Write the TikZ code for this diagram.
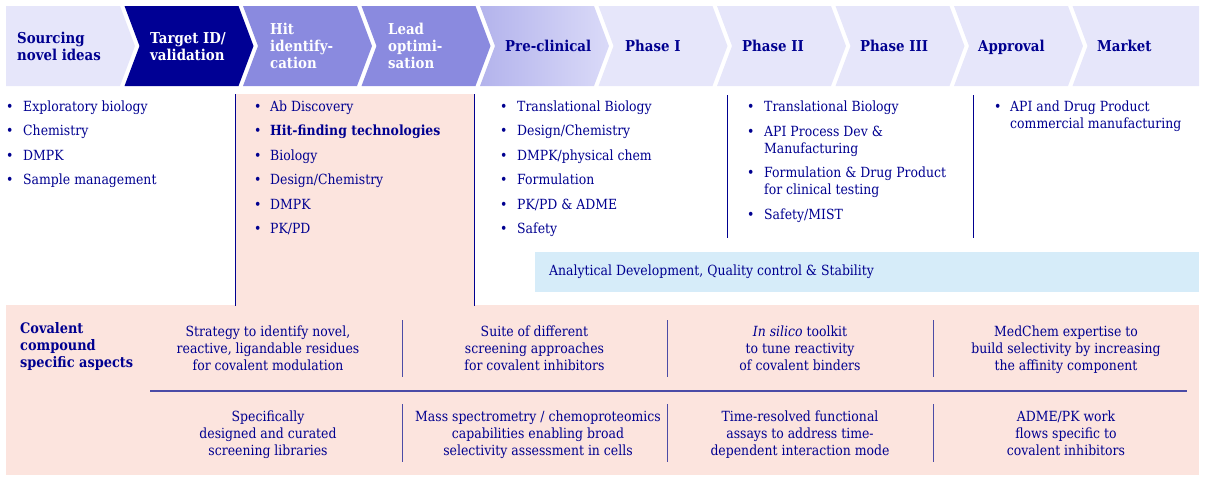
\documentclass[tikz,border=0pt]{standalone}
\usepackage{fontspec}
\setmainfont{DejaVu Serif}[FakeStretch=0.89]
\definecolor{navy}{HTML}{000090}
\definecolor{chevlight}{HTML}{E6E6FA}
\definecolor{chevdark}{HTML}{000094}
\definecolor{chevmid}{HTML}{8A8ADF}
\definecolor{gradL}{HTML}{B3B3EC}
\definecolor{gradR}{HTML}{DADAF8}
\definecolor{pinkbg}{HTML}{FCE4DE}
\definecolor{bluebg}{HTML}{D6ECF9}
\definecolor{sepline}{HTML}{4B4BA6}
\newcommand\myBody{\fontsize{14}{17}\selectfont}
\newcommand\myChev{\fontsize{15}{17}\selectfont\bfseries}
\newcommand\myCov{\fontsize{14.5}{17}\selectfont\bfseries}
\begin{document}
\begin{tikzpicture}[x=1pt,y=-1pt,
  body/.style={anchor=base west, inner sep=0pt, text=navy, font=\myBody, align=left},
  bul/.style={anchor=base west, inner sep=0pt, text=navy, font=\myBody},
  chevlabel/.style={anchor=base west, inner sep=0pt, font=\myChev, align=left},
  cell/.style={anchor=base, inner sep=0pt, text=navy, font=\myBody, align=center},
  sepl/.style={draw=sepline, line width=1.2pt},
  colline/.style={draw=navy, line width=0.8pt},
]
\useasboundingbox (0,0) rectangle (1205,482);
% ---------- chevrons ----------
\fill[chevlight] (6,6) -- (120,6) -- (135,46) -- (120,86) -- (6,86) -- cycle;
\foreach \k/\col in {1/chevdark,2/chevmid,3/chevmid,5/chevlight,6/chevlight,7/chevlight,8/chevlight}{
  \pgfmathsetmacro\xa{6+118.5*\k}
  \fill[\col] (\xa,6) -- ({\xa+114},6) -- ({\xa+129},46) -- ({\xa+114},86) -- (\xa,86) -- ({\xa+15},46) -- cycle;
}
\shade[left color=gradL, right color=gradR] (480,6) -- (594,6) -- (609,46) -- (594,86) -- (480,86) -- (495,46) -- cycle;
\fill[chevlight] (1072.5,6) -- (1199,6) -- (1199,86) -- (1072.5,86) -- (1087.5,46) -- cycle;
\node[chevlabel, text=navy] (ch1) at (17,60) {Sourcing\\novel ideas};
\node[chevlabel, text=white] (ch2) at (150,60) {Target ID/\\validation};
\node[chevlabel, text=white] (ch3) at (270,68) {Hit\\identify-\\cation};
\node[chevlabel, text=white] (ch4) at (388,68) {Lead\\optimi-\\sation};
\node[chevlabel, text=navy] (ch5) at (505,51) {Pre-clinical};
\node[chevlabel, text=navy] (ch6) at (625,51) {Phase I};
\node[chevlabel, text=navy] (ch7) at (742,51) {Phase II};
\node[chevlabel, text=navy] (ch8) at (860,51) {Phase III};
\node[chevlabel, text=navy] (ch9) at (978,51) {Approval};
\node[chevlabel, text=navy] (ch10) at (1097,51) {Market};
% ---------- backgrounds ----------
\fill[pinkbg] (235,94) rectangle (474,306);
\fill[pinkbg] (6,305) rectangle (1199,475);
\fill[bluebg] (535,252) rectangle (1199,292);
\draw[colline] (235,94) -- (235,306);
\draw[colline] (474,94) -- (474,306);
\draw[colline] (727,95) -- (727,238);
\draw[colline] (973,95) -- (973,238);
% ---------- column 1 ----------
\node[bul] (b1a) at (6,111) {\textbullet};  \node[body] (t1a) at (23,111) {Exploratory biology};
\node[bul] (b1b) at (6,135.5) {\textbullet};    \node[body] (t1b) at (23,135.5) {Chemistry};
\node[bul] (b1c) at (6,160) {\textbullet};  \node[body] (t1c) at (23,160) {DMPK};
\node[bul] (b1d) at (6,184.5) {\textbullet};    \node[body] (t1d) at (23,184.5) {Sample management};
% ---------- column 2 ----------
\node[bul] (b2a) at (254,111) {\textbullet};  \node[body] (t2a) at (270,111) {Ab Discovery};
\node[bul] (b2b) at (254,135.5) {\textbullet};    \node[body] (t2b) at (270,135.5) {\bfseries Hit-finding technologies};
\node[bul] (b2c) at (254,160) {\textbullet};  \node[body] (t2c) at (270,160) {Biology};
\node[bul] (b2d) at (254,184.5) {\textbullet};    \node[body] (t2d) at (270,184.5) {Design/Chemistry};
\node[bul] (b2e) at (254,209) {\textbullet};  \node[body] (t2e) at (270,209) {DMPK};
\node[bul] (b2f) at (254,233.5) {\textbullet};    \node[body] (t2f) at (270,233.5) {PK/PD};
% ---------- column 3 ----------
\node[bul] (b3a) at (500,111) {\textbullet};  \node[body] (t3a) at (517,111) {Translational Biology};
\node[bul] (b3b) at (500,135.5) {\textbullet};    \node[body] (t3b) at (517,135.5) {Design/Chemistry};
\node[bul] (b3c) at (500,160) {\textbullet};  \node[body] (t3c) at (517,160) {DMPK/physical chem};
\node[bul] (b3d) at (500,184.5) {\textbullet};    \node[body] (t3d) at (517,184.5) {Formulation};
\node[bul] (b3e) at (500,209) {\textbullet};  \node[body] (t3e) at (517,209) {PK/PD \& ADME};
\node[bul] (b3f) at (500,233.5) {\textbullet};    \node[body] (t3f) at (517,233.5) {Safety};
% ---------- column 4 ----------
\node[bul] (b4a) at (747,111) {\textbullet};  \node[body] (t4a) at (764,111) {Translational Biology};
\node[bul] (b4b) at (747,136) {\textbullet};  \node[body] (t4b) at (764,153) {API Process Dev \&\\Manufacturing};
\node[bul] (b4c) at (747,177) {\textbullet};  \node[body] (t4c) at (764,194) {Formulation \& Drug Product\\for clinical testing};
\node[bul] (b4d) at (747,219) {\textbullet};  \node[body] (t4d) at (764,219) {Safety/MIST};
% ---------- column 5 ----------
\node[bul] (b5a) at (994,111) {\textbullet};  \node[body] (t5a) at (1010,128.5) {API and Drug Product\\commercial manufacturing};
% ---------- analytical ----------
\node[body, anchor=west] (anal) at (549,272) {Analytical Development, Quality control \& Stability};
% ---------- covalent aspects ----------
\node[chevlabel, font=\myCov, text=navy] (cov) at (20,367) {Covalent\\compound\\specific aspects};
\draw[sepl] (150,391) -- (1187,391);
\foreach \xs in {402,667,933}{
  \draw[sepl, line width=1pt] (\xs,320) -- (\xs,377);
  \draw[sepl, line width=1pt] (\xs,404) -- (\xs,462);
}
\node[cell] (r1a) at (268,370) {Strategy to identify novel,\\reactive, ligandable residues\\for covalent modulation};
\node[cell] (r1b) at (534.5,370) {Suite of different\\screening approaches\\for covalent inhibitors};
\node[cell] (r1c) at (800,370) {\textit{In silico} toolkit\\to tune reactivity\\of covalent binders};
\node[cell] (r1d) at (1066,370) {MedChem expertise to\\build selectivity by increasing\\the affinity component};
\node[cell] (r2a) at (268,455) {Specifically\\designed and curated\\screening libraries};
\node[cell] (r2b) at (538,455) {Mass spectrometry / chemoproteomics\\capabilities enabling broad\\selectivity assessment in cells};
\node[cell] (r2c) at (800,455) {Time-resolved functional\\assays to address time-\\dependent interaction mode};
\node[cell] (r2d) at (1066,455) {ADME/PK work\\flows specific to\\covalent inhibitors};
\end{tikzpicture}
\end{document}
